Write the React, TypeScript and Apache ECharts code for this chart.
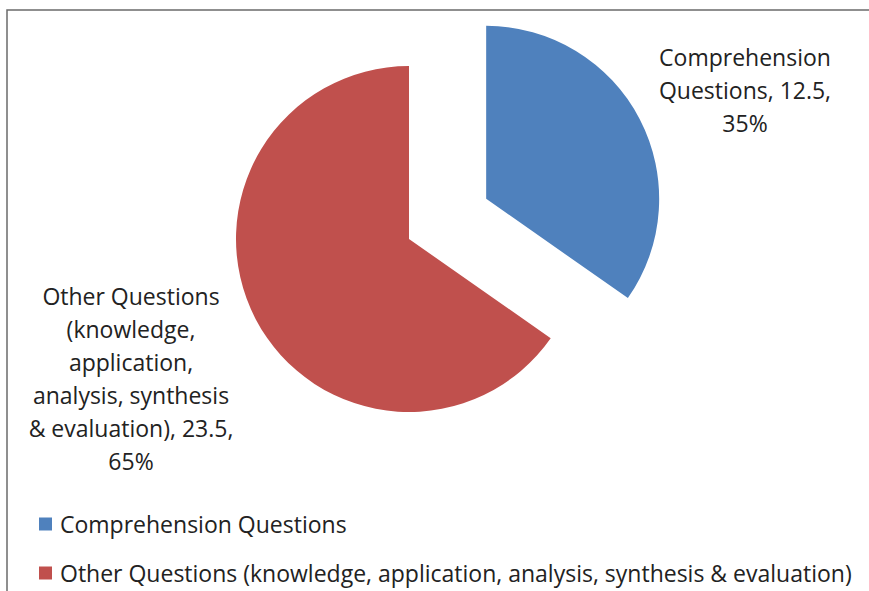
import React, { useEffect, useRef } from "react";
import * as echarts from "echarts";

const categories = [
  "Comprehension Questions",
  "Other Questions (knowledge, application, analysis, synthesis & evaluation)",
];
const values = [12.5, 23.5];
const wrappedNames = [
  "Comprehension\nQuestions",
  "Other Questions\n(knowledge,\napplication,\nanalysis, synthesis\n& evaluation)",
];
const colors = ["#4f81bd", "#c0504d"];

const FONT = "'Open Sans', sans-serif";
const TEXT_COLOR = "#222";

export default function App() {
  const ref = useRef<HTMLDivElement>(null);
  useEffect(() => {
    if (!ref.current) return;
    const chart = echarts.init(ref.current, null, { renderer: "svg" });
    const total = values.reduce((a, b) => a + b, 0);
    const labelPos = [
      { x: 745, y: 90 },
      { x: 131, y: 378 },
    ];
    const labelTexts = values.map(
      (v, i) => `${wrappedNames[i]}, ${v},\n${Math.round((v / total) * 100)}%`
    );
    chart.setOption({
      animation: false,
      color: colors,
      graphic: [
        {
          type: "rect",
          silent: true,
          z: -1,
          shape: { x: 7, y: 10, width: 1000, height: 800 },
          style: { fill: "none", stroke: "#6b6b6b", lineWidth: 1.5 },
        },
        ...labelTexts.map((t, i) => ({
          type: "text",
          silent: true,
          x: labelPos[i].x,
          y: labelPos[i].y,
          style: {
            text: t,
            fontFamily: FONT,
            fontSize: 23,
            lineHeight: 33,
            fill: TEXT_COLOR,
            align: "center",
            verticalAlign: "middle",
          },
        })),
      ],
      legend: {
        orient: "vertical",
        left: 39,
        top: 509,
        padding: 0,
        height: 120,
        icon: "rect",
        itemWidth: 13,
        itemHeight: 13,
        itemGap: 19,
        selectedMode: false,
        textStyle: {
          fontFamily: FONT,
          fontSize: 23,
          color: TEXT_COLOR,
          lineHeight: 30,
          padding: [0, 0, 0, 3],
        },
        data: categories,
      },
      series: [
        {
          type: "pie",
          center: [409, 239],
          radius: 173,
          startAngle: 90,
          clockwise: true,
          selectedMode: "single",
          selectedOffset: 87,
          emphasis: { disabled: true },
          labelLine: { show: false },
          label: { show: false },
          data: categories.map((name, i) => ({
            name,
            value: values[i],
            selected: i === 0,
          })),
        },
      ],
    });
    return () => chart.dispose();
  }, []);
  return (
    <div
      ref={ref}
      style={{ position: "absolute", left: 0, top: 0, width: 869, height: 591, background: "#fff" }}
    />
  );
}
